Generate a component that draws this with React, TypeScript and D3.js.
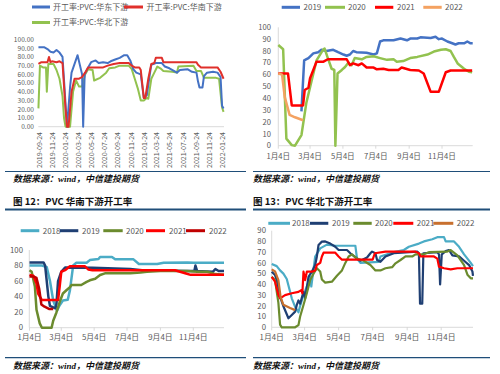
import React from 'react';
import * as d3 from 'd3';

type Pt = [string, number];

const FONT = '"Noto Sans CJK SC", "Noto Sans", sans-serif';
const TICK = '#595959';
const AXIS = '#d0d0d0';
const NAVY = '#1f4e79';

// ---------- Chart 1 (华东/华南/华北 下游开工率, full timeline) ----------
const c1Names = ['开工率:PVC:华东下游', '开工率:PVC:华南下游', '开工率:PVC:华北下游'];
const c1XTicks = [
  '2019-09-24', '2019-11-24', '2020-01-24', '2020-03-24', '2020-05-24', '2020-07-24', '2020-09-24',
  '2020-11-24', '2021-01-24', '2021-03-24', '2021-05-24', '2021-07-24', '2021-09-24', '2021-11-24', '2022-01-24',
];
const c1YTicks = [0, 10, 20, 30, 40, 50, 60, 70, 80, 90, 100];
const c1East: Pt[] = [
  ['2019-09-20', 91], ['2019-10-18', 91], ['2019-11-01', 89], ['2019-11-15', 86], ['2019-11-29', 85],
  ['2019-12-13', 88], ['2019-12-27', 85], ['2020-01-10', 80], ['2020-01-31', 0], ['2020-02-14', 45],
  ['2020-02-21', 62], ['2020-03-06', 72], ['2020-03-20', 82], ['2020-04-10', 60], ['2020-04-15', 0],
  ['2020-04-22', 60], ['2020-05-08', 68], ['2020-05-22', 74], ['2020-06-12', 76], ['2020-06-26', 73],
  ['2020-07-17', 74], ['2020-08-07', 73], ['2020-08-21', 75], ['2020-09-11', 77], ['2020-10-02', 79],
  ['2020-10-23', 82], ['2020-11-06', 82], ['2020-11-20', 76], ['2020-12-04', 66], ['2020-12-18', 62],
  ['2021-01-08', 60], ['2021-01-22', 33], ['2021-02-05', 36], ['2021-02-19', 60], ['2021-02-26', 71],
  ['2021-03-19', 73], ['2021-04-16', 73], ['2021-04-30', 69], ['2021-05-21', 67], ['2021-06-11', 64],
  ['2021-06-25', 62], ['2021-07-09', 65], ['2021-08-13', 66], ['2021-09-03', 63], ['2021-09-24', 62],
  ['2021-10-01', 52], ['2021-10-08', 45], ['2021-10-22', 45], ['2021-10-29', 58], ['2021-11-12', 62],
  ['2021-12-10', 63], ['2021-12-31', 62], ['2022-01-14', 57], ['2022-01-21', 24], ['2022-01-28', 21],
];
const c1South: Pt[] = [
  ['2019-09-20', 72], ['2019-10-04', 74], ['2019-11-01', 74], ['2019-11-08', 80], ['2019-11-15', 74],
  ['2019-11-22', 75], ['2019-12-13', 74], ['2019-12-27', 75], ['2020-01-10', 73], ['2020-01-24', 20],
  ['2020-01-31', 0], ['2020-02-07', 0], ['2020-02-21', 40], ['2020-03-06', 55], ['2020-03-27', 55],
  ['2020-04-10', 57], ['2020-04-24', 62], ['2020-05-08', 68], ['2020-07-17', 68], ['2020-08-07', 70],
  ['2020-09-04', 72], ['2020-10-02', 73], ['2020-11-13', 73], ['2020-11-27', 70], ['2020-12-11', 68],
  ['2021-01-01', 68], ['2021-01-08', 65], ['2021-01-22', 33], ['2021-01-29', 33], ['2021-02-12', 55],
  ['2021-02-26', 72], ['2021-03-12', 73], ['2021-03-19', 79], ['2021-04-16', 79], ['2021-04-23', 74],
  ['2021-09-24', 74], ['2021-10-01', 71], ['2021-10-15', 68], ['2021-12-31', 68], ['2022-01-14', 63],
  ['2022-01-28', 55],
];
const c1North: Pt[] = [
  ['2019-09-20', 21], ['2019-09-27', 70], ['2019-10-11', 68], ['2019-10-25', 68], ['2019-10-29', 40],
  ['2019-11-05', 72], ['2019-11-29', 72], ['2019-12-13', 65], ['2019-12-27', 55], ['2020-01-10', 35],
  ['2020-01-17', 10], ['2020-01-24', 0], ['2020-02-14', 0], ['2020-02-28', 40], ['2020-03-13', 53],
  ['2020-03-27', 46], ['2020-04-10', 46], ['2020-04-24', 60], ['2020-05-08', 66], ['2020-05-29', 65],
  ['2020-06-05', 53], ['2020-07-03', 56], ['2020-07-31', 62], ['2020-08-14', 67], ['2020-09-11', 68],
  ['2020-10-02', 70], ['2020-11-13', 70], ['2020-11-27', 66], ['2020-12-11', 55], ['2020-12-25', 44],
  ['2021-01-08', 30], ['2021-01-22', 30], ['2021-02-05', 33], ['2021-02-12', 32], ['2021-02-26', 55],
  ['2021-03-12', 62], ['2021-03-26', 69], ['2021-04-09', 67], ['2021-04-23', 64], ['2021-06-04', 63],
  ['2021-06-25', 62], ['2021-07-02', 69], ['2021-09-10', 70], ['2021-09-24', 64], ['2021-10-15', 64],
  ['2021-10-29', 56], ['2021-12-24', 56], ['2022-01-07', 55], ['2022-01-21', 22], ['2022-01-28', 17],
];

// ---------- shared seasonal axis ----------
const seasonTicks = ['01-04', '03-04', '05-04', '07-04', '09-04', '11-04'];
const seasonLabels = ['1月4日', '3月4日', '5月4日', '7月4日', '9月4日', '11月4日'];

// ---------- Chart 2 (华东 seasonal) ----------
const c2Years = ['2019', '2020', '2021', '2022'];
const c2YTicks = [0, 10, 20, 30, 40, 50, 60, 70, 80, 90, 100];
const c2_2019: Pt[] = [
  ['02-16', 29], ['02-21', 72], ['03-01', 74], ['03-10', 78], ['03-19', 79], ['03-25', 81], ['04-03', 80],
  ['04-16', 81], ['04-25', 79], ['05-05', 77], ['05-11', 76], ['05-17', 77], ['05-23', 80], ['05-29', 79],
  ['06-17', 78.5], ['06-30', 77], ['07-06', 78], ['07-12', 88], ['07-18', 89], ['08-06', 89], ['08-19', 90.5],
  ['08-31', 89], ['09-06', 90.5], ['09-19', 90.5], ['09-25', 91.5], ['10-14', 91], ['10-23', 92], ['10-29', 90],
  ['11-04', 90.5], ['11-14', 88], ['11-23', 86.5], ['11-29', 85.5], ['12-05', 86.5], ['12-15', 86.5],
  ['12-21', 88], ['12-27', 86.5], ['12-31', 86.5],
];
const c2_2020: Pt[] = [
  ['01-04', 85], ['01-13', 81.5], ['01-19', 6], ['01-29', 0.5], ['02-04', 0], ['02-16', 9], ['02-25', 36],
  ['03-07', 55], ['03-16', 72], ['03-28', 81], ['03-31', 82], ['04-06', 74], ['04-13', 65], ['04-18', 64],
  ['04-20', 0], ['04-24', 61], ['05-02', 64], ['05-08', 66.5], ['05-14', 70], ['05-20', 68], ['05-26', 74],
  ['06-08', 73], ['06-17', 75], ['06-30', 75.5], ['07-12', 74], ['07-25', 72.5], ['08-06', 73], ['08-12', 71],
  ['08-24', 71.5], ['09-06', 74], ['09-19', 75], ['10-08', 77], ['10-20', 79.5], ['11-02', 81], ['11-11', 81.5],
  ['11-20', 80], ['11-26', 75], ['12-03', 69.5], ['12-15', 65], ['12-24', 62.5], ['12-30', 62],
];
const c2_2021: Pt[] = [
  ['01-04', 61], ['01-22', 61], ['01-29', 34], ['02-19', 34], ['02-22', 47], ['03-01', 49], ['03-04', 57],
  ['03-10', 64], ['03-16', 71], ['03-29', 71], ['04-06', 73], ['05-11', 73], ['05-17', 68], ['05-23', 69.5],
  ['06-02', 68], ['06-08', 69.5], ['06-17', 66], ['06-30', 66], ['07-06', 64.5], ['07-18', 65], ['07-28', 64],
  ['08-15', 64], ['08-21', 66], ['09-06', 64], ['09-22', 63.5], ['10-01', 61], ['10-14', 45.5], ['10-29', 45.5],
  ['11-11', 62], ['11-20', 63.5], ['12-30', 63.5],
];
const c2_2022: Pt[] = [
  ['01-04', 61], ['01-11', 60], ['01-16', 41], ['01-25', 26], ['02-04', 24], ['02-19', 21.5],
];

// ---------- Chart 3 (华南 seasonal) ----------
const c3Years = ['2018', '2019', '2020', '2021', '2022'];
const c3YTicks = [0, 20, 40, 60, 80, 100];
const c3_2018: Pt[] = [
  ['01-04', 80], ['01-27', 80], ['02-05', 78], ['02-11', 60], ['02-17', 35], ['02-24', 22], ['03-01', 29],
  ['03-07', 35], ['03-16', 36], ['03-20', 48], ['03-26', 80], ['04-01', 83.5], ['04-20', 83.5], ['04-26', 87],
  ['05-12', 88.5], ['05-15', 91], ['06-06', 91], ['06-12', 88], ['07-16', 88], ['07-26', 82], ['08-29', 82],
  ['09-10', 83.5], ['10-24', 84], ['11-05', 83.5], ['12-31', 83.5],
];
const c3_2019: Pt[] = [
  ['01-04', 84], ['01-30', 84], ['02-02', 80], ['02-08', 40], ['02-11', 28], ['02-21', 25], ['02-23', 30],
  ['02-26', 60], ['03-04', 72], ['03-11', 77.5], ['05-01', 77], ['07-10', 75.5], ['08-01', 74], ['10-24', 73],
  ['11-06', 73], ['11-08', 80], ['11-11', 73], ['12-10', 72], ['12-15', 75.5], ['12-21', 73], ['12-31', 73],
];
const c3_2020: Pt[] = [
  ['01-04', 74], ['01-08', 72], ['01-14', 53], ['01-17', 23], ['01-23', 5.6], ['01-27', 0], ['02-14', 0],
  ['02-17', 9], ['02-23', 19.6], ['03-01', 33], ['03-07', 44], ['03-14', 48.5], ['03-20', 52], ['03-23', 55],
  ['04-10', 55], ['04-20', 59], ['04-26', 61], ['05-06', 63], ['05-15', 67.8], ['05-24', 70], ['07-10', 70],
  ['07-29', 71], ['08-10', 72], ['09-04', 73], ['10-24', 73], ['11-11', 72], ['11-30', 72], ['12-15', 69],
  ['12-31', 68],
];
const c3_2021: Pt[] = [
  ['01-04', 68], ['01-11', 67], ['01-17', 57], ['01-20', 44], ['01-27', 35.5], ['02-26', 35.5], ['03-01', 53],
  ['03-04', 72], ['03-11', 74], ['03-20', 79], ['04-17', 79], ['04-23', 75], ['05-01', 74], ['10-01', 74],
  ['10-20', 70], ['10-30', 68], ['12-31', 68],
];
const c3_2022: Pt[] = [
  ['01-04', 66], ['01-11', 66], ['01-17', 64], ['01-22', 50], ['01-26', 30], ['02-01', 27], ['02-10', 24],
  ['02-17', 24],
];

// ---------- Chart 4 (华北 seasonal) ----------
const c4Years = ['2018', '2019', '2020', '2021', '2022'];
const c4YTicks = [0, 10, 20, 30, 40, 50, 60, 70, 80, 90];
const c4_2018: Pt[] = [
  ['01-04', 59], ['01-13', 57], ['01-19', 53], ['01-25', 50], ['01-31', 45], ['02-09', 27], ['02-15', 19],
  ['02-21', 14], ['02-24', 20], ['03-02', 30], ['03-08', 38], ['03-14', 47], ['03-16', 38], ['03-23', 66],
  ['04-01', 73.5], ['04-13', 77], ['04-28', 76], ['06-03', 76], ['06-06', 64], ['06-12', 60], ['07-15', 61],
  ['07-18', 66], ['08-11', 70], ['08-29', 72], ['09-07', 75], ['09-25', 78], ['10-04', 80], ['10-19', 82],
  ['10-28', 84], ['11-09', 84], ['11-12', 80], ['11-27', 80], ['12-06', 75], ['12-15', 68], ['12-27', 60],
  ['12-31', 57],
];
const c4_2019: Pt[] = [
  ['01-04', 51.8], ['01-10', 48.7], ['01-13', 44], ['01-19', 28.5], ['01-25', 19.6], ['02-03', 8.4],
  ['02-09', 11.5], ['02-15', 14.6], ['02-18', 20.8], ['02-21', 25], ['02-24', 22], ['03-02', 33], ['03-05', 27],
  ['03-11', 47], ['03-17', 51.8], ['03-23', 58], ['03-26', 66], ['03-29', 76.7], ['04-04', 79.8], ['04-10', 80],
  ['04-19', 78], ['04-28', 75], ['05-04', 72], ['05-19', 72], ['05-25', 69], ['06-06', 64], ['06-12', 62],
  ['06-24', 65], ['06-30', 69], ['07-03', 70.5], ['07-09', 69], ['07-12', 62.7], ['07-18', 61], ['07-27', 66],
  ['08-11', 69], ['09-22', 70.5], ['09-25', 69], ['09-27', 22], ['10-01', 22], ['10-03', 69], ['10-28', 70],
  ['10-31', 68], ['11-02', 40], ['11-05', 68], ['11-12', 71], ['11-18', 72], ['11-24', 67], ['12-06', 66],
  ['12-15', 62], ['12-24', 58], ['12-30', 52], ['12-31', 48],
];
const c4_2020: Pt[] = [
  ['01-04', 47], ['01-10', 44], ['01-16', 22.7], ['01-19', 2.5], ['01-22', 0], ['02-15', 0], ['02-21', 2],
  ['02-24', 10], ['03-02', 20.8], ['03-08', 31.7], ['03-14', 44], ['03-20', 50], ['03-26', 55], ['04-01', 52],
  ['04-04', 44.5], ['04-10', 41.6], ['04-22', 42.5], ['05-01', 48], ['05-10', 53], ['05-16', 60], ['05-22', 66],
  ['05-28', 68], ['06-06', 64], ['06-18', 62], ['06-30', 58], ['07-09', 53], ['07-18', 53], ['07-27', 55],
  ['08-08', 56], ['08-14', 59.6], ['08-23', 62.7], ['09-01', 66], ['09-13', 66], ['09-19', 68], ['10-04', 68],
  ['10-13', 70], ['11-15', 70.5], ['11-21', 72], ['12-03', 67], ['12-15', 58], ['12-21', 49], ['12-27', 45.6],
  ['12-31', 45.6],
];
const c4_2021: Pt[] = [
  ['01-04', 47], ['01-10', 42.5], ['01-16', 30], ['01-19', 27], ['01-28', 30], ['02-09', 31.7], ['02-21', 33],
  ['02-26', 34.6], ['02-28', 31.7], ['03-02', 51.8], ['03-05', 44], ['03-08', 51.8], ['03-17', 51.8],
  ['03-23', 53], ['03-26', 58], ['04-01', 60], ['04-04', 66], ['04-07', 69.5], ['04-28', 69.5], ['05-04', 66],
  ['05-10', 63], ['07-04', 63], ['07-08', 69], ['07-27', 70.5], ['09-19', 70.5], ['09-25', 69], ['09-28', 66],
  ['10-22', 66], ['10-28', 64], ['10-31', 56.5], ['11-09', 55], ['11-21', 54], ['12-03', 55], ['12-31', 55],
];
const c4_2022: Pt[] = [
  ['01-04', 54], ['01-10', 52], ['01-16', 44], ['01-20', 28], ['01-25', 21], ['02-06', 18], ['02-15', 16],
];

const sourceText = ['数据来源：', 'wind', '，中信建投期货'];
const captions = ['图 12：PVC 华南下游开工率', '图 13：PVC 华北下游开工率'];

const parseFull = d3.timeParse('%Y-%m-%d');
const parseMD = (s: string) => parseFull('2021-' + s) as Date;
const parseF = (s: string) => parseFull(s) as Date;

interface SeriesDef { color: string; data: Pt[] }

interface PanelProps {
  series: SeriesDef[];
  parse: (s: string) => Date;
  xDomain: [string, string];
  xRange: [number, number];
  axisSpan: [number, number];
  yDomain: [number, number];
  yRange: [number, number];
  yTicks: number[];
  yFmt: (v: number) => string;
  yLabelX: number;
  xTicks: string[];
  xLabels: string[];
  rotate?: boolean;
  xLabelY: number;
  lineW: number;
  yAxisLine?: boolean;
  fontSize: number;
  yFontSize?: number;
  tickMarks?: boolean;
}

function Panel(p: PanelProps) {
  const x = d3.scaleTime().domain([p.parse(p.xDomain[0]), p.parse(p.xDomain[1])]).range(p.xRange);
  const y = d3.scaleLinear().domain(p.yDomain).range(p.yRange);
  const line = d3.line<Pt>().x(d => x(p.parse(d[0]))).y(d => y(d[1]));
  const y0 = y(p.yDomain[0]);
  const yfs = p.yFontSize ?? p.fontSize;
  return (
    <g>
      {p.yAxisLine && <line x1={p.axisSpan[0]} x2={p.axisSpan[0]} y1={y(p.yDomain[1])} y2={y0} stroke={AXIS} strokeWidth={0.8} />}
      <line x1={p.axisSpan[0]} x2={p.axisSpan[1]} y1={y0} y2={y0} stroke={AXIS} strokeWidth={0.8} />
      {p.yTicks.map(t => (
        <text key={t} x={p.yLabelX} y={y(t)} dy="0.35em" textAnchor="end" fontSize={yfs} fill={TICK} fontFamily={FONT}>
          {p.yFmt(t)}
        </text>
      ))}
      {p.xTicks.map((t, i) => {
        const xp = x(p.parse(t));
        return p.rotate ? (
          <text key={t} transform={`translate(${xp},${p.xLabelY}) rotate(-90)`} textAnchor="end" dy="0.35em"
            fontSize={p.fontSize - 0.5} fill={TICK} fontFamily={FONT}>
            {p.xLabels[i]}
          </text>
        ) : (
          <g key={t}>
            {p.tickMarks && <line x1={xp} x2={xp} y1={y0} y2={y0 + 3} stroke={AXIS} strokeWidth={0.8} />}
            <text x={xp} y={p.xLabelY} textAnchor="middle" dy="0.35em" fontSize={p.fontSize} fill={TICK} fontFamily={FONT}>
              {p.xLabels[i]}
            </text>
          </g>
        );
      })}
      {p.series.map((s, i) => (
        <path key={i} d={line(s.data) || ''} fill="none" stroke={s.color} strokeWidth={p.lineW} strokeLinejoin="round" />
      ))}
    </g>
  );
}

function Legend({ items, y, fontSize }: { items: { label: string; color: string; x1: number; x2: number; tx: number }[]; y: number; fontSize: number }) {
  return (
    <g>
      {items.map((it, i) => (
        <g key={i}>
          <line x1={it.x1} x2={it.x2} y1={y} y2={y} stroke={it.color} strokeWidth={3} />
          <text x={it.tx} y={y} dy="0.35em" fontSize={fontSize} fill={TICK} fontFamily={FONT}>{it.label}</text>
        </g>
      ))}
    </g>
  );
}

function Source({ x, y }: { x: number; y: number }) {
  return (
    <text x={x} y={y} fontSize={9} fontWeight="bold" fontStyle="italic" fontFamily={FONT} fill="#111">
      {sourceText[0]}
      <tspan fontFamily='"Liberation Serif", serif'>{sourceText[1]}</tspan>
      {sourceText[2]}
    </text>
  );
}

export default function App() {
  const C1 = ['#4472C4', '#E0302B', '#92C24F'];
  const C2 = ['#4472C4', '#92C24F', '#FF0000', '#F4A261'];
  const C3 = ['#4BACC6', '#1F3F73', '#6B8B2E', '#FF0000', '#C00000'];
  const C4 = ['#4BACC6', '#1F3F73', '#6B8B2E', '#FF0000', '#C8702E'];
  const seasonEnd: [string, string] = ['01-04', '12-31'];
  return (
    <svg width={500} height={374} style={{ position: 'absolute', left: 0, top: 0, background: '#fff' }}>
      <rect width={500} height={374} fill="#fff" />
      {/* Chart 1 */}
      <Legend fontSize={8} y={7} items={[
        { label: c1Names[0], color: C1[0], x1: 32, x2: 50, tx: 53 },
        { label: c1Names[1], color: C1[1], x1: 124, x2: 143, tx: 146.5 },
      ]} />
      <Legend fontSize={8} y={22.5} items={[{ label: c1Names[2], color: C1[2], x1: 32, x2: 50, tx: 53 }]} />
      <Panel
        series={[{ color: C1[2], data: c1North }, { color: C1[0], data: c1East }, { color: C1[1], data: c1South }]}
        parse={parseF} xDomain={['2019-09-24', '2022-01-24']} xRange={[39.3, 222.7]} axisSpan={[38.3, 224]}
        yDomain={[0, 100]} yRange={[126.7, 39.5]} yTicks={c1YTicks} yFmt={v => v.toFixed(2)} yLabelX={34}
        xTicks={c1XTicks} xLabels={c1XTicks} rotate xLabelY={132} lineW={2} fontSize={7.5} yFontSize={6.6}
      />
      {/* Chart 2 */}
      <Legend fontSize={8} y={7.3} items={c2Years.map((yr, i) => ({
        label: yr, color: C2[i],
        x1: [281.7, 325, 375, 423.3][i], x2: [300, 345, 393.3, 441.7][i], tx: [303.5, 348, 397, 445][i],
      }))} />
      <Panel
        series={[{ color: C2[0], data: c2_2019 }, { color: C2[1], data: c2_2020 }, { color: C2[2], data: c2_2021 }, { color: C2[3], data: c2_2022 }]}
        parse={parseMD} xDomain={seasonEnd} xRange={[278.3, 472.7]} axisSpan={[278.3, 472.7]}
        yDomain={[0, 100]} yRange={[145.7, 27.3]} yTicks={c2YTicks} yFmt={v => String(v)} yLabelX={271}
        xTicks={seasonTicks} xLabels={seasonLabels} xLabelY={156.5} lineW={2.5} yAxisLine tickMarks fontSize={7.6}
      />
      {/* captions */}
      <line x1={5} x2={246} y1={171.5} y2={171.5} stroke={NAVY} strokeWidth={1.2} />
      <line x1={253} x2={490} y1={171.5} y2={171.5} stroke={NAVY} strokeWidth={1.2} />
      <Source x={13} y={181.5} />
      <Source x={253} y={181.5} />
      <text x={13} y={205} fontSize={9.5} fontWeight="bold" fontFamily={FONT} fill="#111">{captions[0]}</text>
      <text x={253} y={205} fontSize={9.5} fontWeight="bold" fontFamily={FONT} fill="#111">{captions[1]}</text>
      <line x1={5} x2={246} y1={209.5} y2={209.5} stroke={NAVY} strokeWidth={2} />
      <line x1={253} x2={490} y1={209.5} y2={209.5} stroke={NAVY} strokeWidth={2} />
      {/* Chart 3 */}
      <Legend fontSize={8} y={230.7} items={c3Years.map((yr, i) => ({
        label: yr, color: C3[i],
        x1: [20.7, 60, 103.3, 146, 186][i], x2: [39.3, 78.3, 122.7, 165, 205][i], tx: [42.7, 82, 126, 169, 209][i],
      }))} />
      <Panel
        series={[{ color: C3[0], data: c3_2018 }, { color: C3[1], data: c3_2019 }, { color: C3[2], data: c3_2020 }, { color: C3[3], data: c3_2021 }, { color: C3[4], data: c3_2022 }]}
        parse={parseMD} xDomain={seasonEnd} xRange={[29.5, 224]} axisSpan={[29.3, 224]}
        yDomain={[0, 100]} yRange={[327.7, 250]} yTicks={c3YTicks} yFmt={v => String(v)} yLabelX={23}
        xTicks={seasonTicks} xLabels={seasonLabels} xLabelY={337.7} lineW={2.5} yAxisLine tickMarks fontSize={7.8}
      />
      {/* Chart 4 */}
      <Legend fontSize={8} y={223.3} items={c4Years.map((yr, i) => ({
        label: yr, color: C4[i],
        x1: [268.3, 310, 353.3, 393.3, 433.3][i], x2: [290, 328.3, 371.7, 413.3, 453.3][i], tx: [292, 332, 375, 416.7, 456.7][i],
      }))} />
      <Panel
        series={[{ color: C4[0], data: c4_2018 }, { color: C4[1], data: c4_2019 }, { color: C4[2], data: c4_2020 }, { color: C4[3], data: c4_2021 }, { color: C4[4], data: c4_2022 }]}
        parse={parseMD} xDomain={seasonEnd} xRange={[271.7, 473]} axisSpan={[271.7, 473]}
        yDomain={[0, 90]} yRange={[327.3, 230.7]} yTicks={c4YTicks} yFmt={v => String(v)} yLabelX={266}
        xTicks={seasonTicks} xLabels={seasonLabels} xLabelY={337.7} lineW={2.2} yAxisLine tickMarks fontSize={7.8}
      />
      {/* bottom sources */}
      <line x1={5} x2={246} y1={357.7} y2={357.7} stroke={NAVY} strokeWidth={1.2} />
      <line x1={253} x2={490} y1={357.7} y2={357.7} stroke={NAVY} strokeWidth={1.2} />
      <Source x={13} y={368.5} />
      <Source x={253} y={368.5} />
    </svg>
  );
}
